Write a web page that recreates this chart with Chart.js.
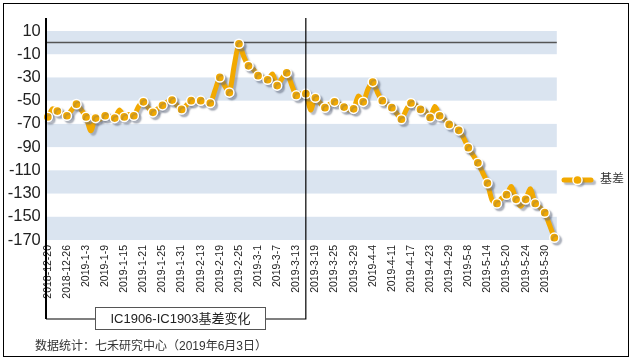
<!DOCTYPE html>
<html>
<head>
<meta charset="utf-8">
<script src="https://cdn.jsdelivr.net/npm/chart.js@4.4.1/dist/chart.umd.min.js"></script>
<style>
  html, body { margin: 0; padding: 0; background: #fff; }
  #wrap { width: 634px; height: 361px; }
</style>
</head>
<body>
<div id="wrap"><canvas id="chart" width="634" height="361"></canvas></div>
<script>
/* ----- dados ----- */
const dates = [
  '2018-12-20', '2018-12-21', '2018-12-24', '2018-12-25', '2018-12-26', '2018-12-27', '2018-12-28',
  '2019-1-2', '2019-1-3', '2019-1-4', '2019-1-7', '2019-1-8', '2019-1-9', '2019-1-10', '2019-1-11',
  '2019-1-14', '2019-1-15', '2019-1-16', '2019-1-17', '2019-1-18', '2019-1-21', '2019-1-22', '2019-1-23',
  '2019-1-24', '2019-1-25', '2019-1-28', '2019-1-29', '2019-1-30', '2019-1-31',
  '2019-2-1', '2019-2-11', '2019-2-12', '2019-2-13', '2019-2-14', '2019-2-15', '2019-2-18', '2019-2-19',
  '2019-2-20', '2019-2-21', '2019-2-22', '2019-2-25', '2019-2-26', '2019-2-27', '2019-2-28',
  '2019-3-1', '2019-3-4', '2019-3-5', '2019-3-6', '2019-3-7', '2019-3-8', '2019-3-11', '2019-3-12',
  '2019-3-13', '2019-3-14', '2019-3-15', '2019-3-18', '2019-3-19', '2019-3-20', '2019-3-21', '2019-3-22',
  '2019-3-25', '2019-3-26', '2019-3-27', '2019-3-28', '2019-3-29',
  '2019-4-1', '2019-4-2', '2019-4-3', '2019-4-4', '2019-4-8', '2019-4-9', '2019-4-10', '2019-4-11',
  '2019-4-12', '2019-4-15', '2019-4-16', '2019-4-17', '2019-4-18', '2019-4-19', '2019-4-22', '2019-4-23',
  '2019-4-24', '2019-4-25', '2019-4-26', '2019-4-29', '2019-4-30',
  '2019-5-6', '2019-5-7', '2019-5-8', '2019-5-9', '2019-5-10', '2019-5-13', '2019-5-14', '2019-5-15',
  '2019-5-16', '2019-5-17', '2019-5-20', '2019-5-21', '2019-5-22', '2019-5-23', '2019-5-24', '2019-5-27',
  '2019-5-28', '2019-5-29', '2019-5-30', '2019-5-31', '2019-6-3'
];

const basis = [
  -64, -57, -59, -61, -63, -58, -53, -58, -64, -76,
  -65, -66, -63, -64, -65, -58, -64, -62, -63, -55,
  -51, -56, -60, -57, -54, -51, -49.5, -54, -57.5, -54,
  -50, -50, -50, -51, -52, -41, -30, -37, -43, -20,
  -1, -12, -20, -23, -28.5, -30, -32, -27, -37, -31,
  -26, -36, -45.5, -44, -44, -58, -47.5, -52, -56, -53,
  -51, -53, -55.5, -58, -57, -46, -51, -40, -34, -43,
  -50, -53, -56, -61, -66, -58, -52, -54, -57.5, -59,
  -64.5, -55, -63, -66, -70.5, -72, -75.5, -82, -90.5, -97,
  -103.5, -112, -121, -136, -138.5, -134, -131, -124, -135, -141,
  -135, -126, -138.5, -142, -146.5, -157, -168
];

const yTicks = [10, -10, -30, -50, -70, -90, -110, -130, -150, -170];
const seriesName = '基差';
const bracketTitle = 'IC1906-IC1903基差变化';
const bracketEnd = '2019-3-15';
const footer = '数据统计：七禾研究中心（2019年6月3日）';

const ORANGE = '#F2A900';
const FONT = '"Liberation Sans", Arial, "Noto Sans CJK SC", sans-serif';
const SHADOW = 'rgba(95,105,125,0.45)';

/* ----- fundo, linhas e textos ----- */
const decor = {
  id: 'decor',
  beforeDatasetsDraw(chart) {
    const { ctx, chartArea: a, scales: { y } } = chart;
    ctx.save();
    ctx.fillStyle = '#DAE4F0';
    for (let i = 0; i < yTicks.length - 1; i += 2) {
      const t = y.getPixelForValue(yTicks[i]);
      const b = y.getPixelForValue(yTicks[i + 1]);
      ctx.fillRect(a.left - 2, t, a.right - a.left + 4.5, b - t);
    }
    // linha do zero
    const z = y.getPixelForValue(0);
    ctx.strokeStyle = '#555';
    ctx.lineWidth = 1.5;
    ctx.beginPath();
    ctx.moveTo(a.left - 2, z);
    ctx.lineTo(a.right + 2.5, z);
    ctx.stroke();
    ctx.restore();
  },
  beforeDatasetDraw(chart) {
    const ctx = chart.ctx;
    ctx.save();
    ctx.shadowColor = SHADOW;
    ctx.shadowOffsetX = 2.5;
    ctx.shadowOffsetY = 2.5;
    ctx.shadowBlur = 1.5;
  },
  afterDatasetDraw(chart) {
    chart.ctx.restore();
  },
  afterDraw(chart) {
    const { ctx, chartArea: a, scales: { x } } = chart;
    ctx.save();

    // colchete do período
    const x0 = a.left - 1.8;
    const x1 = x.getPixelForValue(dates.indexOf(bracketEnd));
    const top = 18, bot = 319;
    ctx.strokeStyle = '#000';
    ctx.lineWidth = 2;
    ctx.beginPath();
    ctx.moveTo(x0, top);
    ctx.lineTo(x0, bot);
    ctx.stroke();
    ctx.lineWidth = 1.2;
    ctx.beginPath();
    ctx.moveTo(x1, top);
    ctx.lineTo(x1, bot);
    ctx.lineTo(x0, bot);
    ctx.stroke();

    ctx.fillStyle = '#fff';
    ctx.fillRect(95, 307.5, 170, 22);
    ctx.strokeStyle = '#555';
    ctx.lineWidth = 1;
    ctx.strokeRect(95.5, 307.5, 170, 22);
    ctx.fillStyle = '#222';
    ctx.font = '13px ' + FONT;
    ctx.textAlign = 'center';
    ctx.textBaseline = 'middle';
    ctx.fillText(bracketTitle, 180.5, 319);

    // legenda
    const ly = 180;
    ctx.save();
    ctx.shadowColor = SHADOW;
    ctx.shadowOffsetX = 2.5;
    ctx.shadowOffsetY = 2.5;
    ctx.shadowBlur = 1.5;
    ctx.strokeStyle = ORANGE;
    ctx.lineWidth = 5;
    ctx.lineCap = 'round';
    ctx.beginPath();
    ctx.moveTo(564, ly);
    ctx.lineTo(591, ly);
    ctx.stroke();
    ctx.beginPath();
    ctx.arc(577.5, ly, 4.6, 0, Math.PI * 2);
    ctx.fillStyle = ORANGE;
    ctx.fill();
    ctx.shadowColor = 'transparent';
    ctx.strokeStyle = '#fff';
    ctx.lineWidth = 1.5;
    ctx.stroke();
    ctx.restore();
    ctx.fillStyle = '#333';
    ctx.font = '12px ' + FONT;
    ctx.textAlign = 'left';
    ctx.textBaseline = 'middle';
    ctx.fillText(seriesName, 600, ly);

    // fonte
    ctx.fillStyle = '#333';
    ctx.font = '12px ' + FONT;
    ctx.fillText(footer, 35, 347);

    // moldura
    ctx.strokeStyle = '#000';
    ctx.lineWidth = 1;
    ctx.strokeRect(3.5, 3.5, 625, 353);
    ctx.restore();
  }
};

new Chart(document.getElementById('chart'), {
  type: 'line',
  data: {
    labels: dates,
    datasets: [{
      label: seriesName,
      data: basis,
      borderColor: ORANGE,
      borderWidth: 5,
      backgroundColor: ORANGE,
      pointBackgroundColor: ORANGE,
      pointBorderColor: '#fff',
      pointBorderWidth: 1.5,
      // marcador a cada dois pregões
      pointRadius: ctx => (ctx.dataIndex % 2 === 0 ? 4.6 : 0),
      pointHoverRadius: 0,
      tension: 0.25,
      borderJoinStyle: 'round',
      clip: false
    }]
  },
  options: {
    responsive: false,
    animation: false,
    events: [],
    layout: { padding: { top: 31, right: 79.7, bottom: 0, left: 0 } },
    plugins: { legend: { display: false }, tooltip: { enabled: false } },
    scales: {
      x: {
        type: 'category',
        offset: false,
        grid: { display: false, drawTicks: false },
        border: { display: false },
        ticks: {
          autoSkip: false,
          minRotation: 90,
          maxRotation: 90,
          padding: 5,
          color: '#222',
          font: { family: FONT, size: 10.5 },
          callback: (v, i) => (i % 4 === 0 ? dates[i] : '')
        },
        afterFit: s => { s.height = 121; }
      },
      y: {
        min: -170,
        max: 10,
        afterBuildTicks: s => { s.ticks = yTicks.map(v => ({ value: v })); },
        grid: { display: false, drawTicks: false },
        border: { display: false },
        ticks: {
          padding: 7,
          color: '#222',
          font: { family: FONT, size: 16.5 }
        },
        afterFit: s => { s.width = 47.8; }
      }
    }
  },
  plugins: [decor]
});
</script>
</body>
</html>
